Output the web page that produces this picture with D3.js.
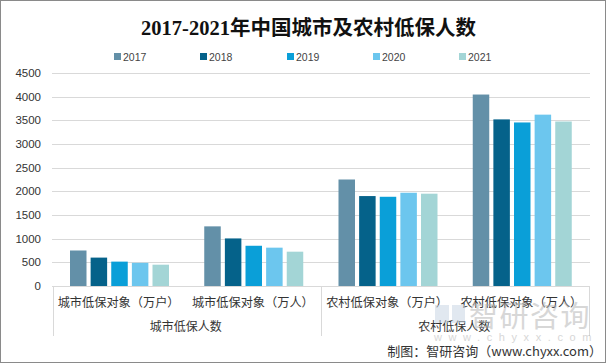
<!DOCTYPE html>
<html><head><meta charset="utf-8">
<script src="https://cdn.jsdelivr.net/npm/d3@7/dist/d3.min.js"></script>
<style>html,body{margin:0;padding:0;background:#fff}svg{display:block}</style></head>
<body><svg id="c" width="606" height="363"></svg>
<script>
const categories=["城市低保对象（万户）","城市低保对象（万人）","农村低保对象（万户）","农村低保对象（万人）"];
const groups=["城市低保人数","农村低保人数"];
const years=["2017","2018","2019","2020","2021"];
const colors=["#6390a8","#05628a","#0a9fd8","#6cc6ee","#a3d5d6"];
const v2017=[750,1260,2250,4045];
const v2018=[600,1005,1900,3520];
const v2019=[515,850,1885,3455];
const v2020=[490,810,1970,3620];
const v2021=[450,725,1950,3475];
const series=[v2017,v2018,v2019,v2020,v2021];
const yTicks=[0,500,1000,1500,2000,2500,3000,3500,4000,4500];

const svg=d3.select("#c");
const sans="'Noto Sans CJK SC','Liberation Sans',sans-serif";
svg.append("rect").attr("x",.5).attr("y",.5).attr("width",605).attr("height",362).attr("fill","#fff").attr("stroke","#8a8a8a");

const y=d3.scaleLinear().domain([0,4500]).range([286,73]);
const x0=d3.scaleBand().domain(categories).range([52.5,589.5]);
const x1=d3.scaleBand().domain(years).range([0,99]).paddingInner(.2);

svg.append("g").selectAll("line").data(yTicks.slice(1)).join("line")
 .attr("x1",52).attr("x2",590).attr("y1",d=>Math.round(y(d))+.5).attr("y2",d=>Math.round(y(d))+.5)
 .attr("stroke","#d9d9d9");
svg.append("g").selectAll("text").data(yTicks).join("text")
 .attr("x",41).attr("y",d=>y(d)+4).attr("text-anchor","end").attr("font-family","'Liberation Sans',sans-serif").attr("font-size",11.5).attr("fill","#333").text(d=>d);

series.forEach((s,i)=>{
 svg.append("g").selectAll("rect").data(s).join("rect")
  .attr("x",(d,j)=>x0(categories[j])+17.5+x1(years[i]))
  .attr("width",x1.bandwidth()).attr("y",d=>y(d)).attr("height",d=>y(0)-y(d)).attr("fill",colors[i]);
});

const ax=svg.append("g").attr("stroke","#d9d9d9");
ax.append("line").attr("x1",52).attr("x2",590).attr("y1",286.5).attr("y2",286.5);
[x0.range()[0],x0(categories[2])].forEach(p=>{
 ax.append("line").attr("x1",Math.round(p)+.5).attr("x2",Math.round(p)+.5).attr("y1",286).attr("y2",336);
});
ax.append("line").attr("x1",589.5).attr("x2",589.5).attr("y1",286).attr("y2",336);
svg.append("g").selectAll("text").data(categories).join("text")
 .attr("x",d=>x0(d)+x0.bandwidth()/2-1).attr("y",307).attr("text-anchor","middle").attr("font-family",sans).attr("font-size",12.2).attr("fill","#333").text(d=>d);
svg.append("g").selectAll("text").data(groups).join("text")
 .attr("x",(d,i)=>x0(categories[i*2])+x0.bandwidth()-1).attr("y",331).attr("text-anchor","middle").attr("font-family",sans).attr("font-size",12).attr("fill","#333").text(d=>d);

const lx=[114,200,287,373,459];
const lg=svg.append("g").selectAll("g").data(years).join("g");
lg.append("rect").attr("x",(d,i)=>lx[i]).attr("y",53).attr("width",7).attr("height",7).attr("fill",(d,i)=>colors[i]);
lg.append("text").attr("x",(d,i)=>lx[i]+9).attr("y",60.5).attr("font-family","'Liberation Sans',sans-serif").attr("font-size",10.5).attr("fill","#444").text(d=>d);

svg.append("text").attr("x",308.5).attr("y",35).attr("text-anchor","middle").attr("font-family","'Liberation Serif','Noto Sans CJK SC',serif").attr("font-weight","bold").attr("font-size",20.5).attr("fill","#111").text("2017-2021年中国城市及农村低保人数");

const wm=svg.append("g").attr("opacity",.5);
wm.append("rect").attr("x",435).attr("y",305).attr("width",14).attr("height",18).attr("fill","#c5d3e2");
wm.append("rect").attr("x",452).attr("y",305).attr("width",13).attr("height",18).attr("fill","#c5d3e2");
wm.append("text").attr("x",469).attr("y",327).attr("font-family",sans).attr("font-size",29).attr("letter-spacing",1.5).attr("fill","#b0b0b0").text("智研咨询");
wm.append("text").attr("x",434).attr("y",341).attr("font-family","'Liberation Sans',sans-serif").attr("font-size",11).attr("letter-spacing",6.6).attr("fill","#b0b0b0").text("www.chyxx.com");

svg.append("text").attr("x",602).attr("y",356).attr("text-anchor","end").attr("font-family",sans).attr("font-size",13).attr("fill","#333").text("制图：智研咨询（www.chyxx.com）");
</script></body></html>
